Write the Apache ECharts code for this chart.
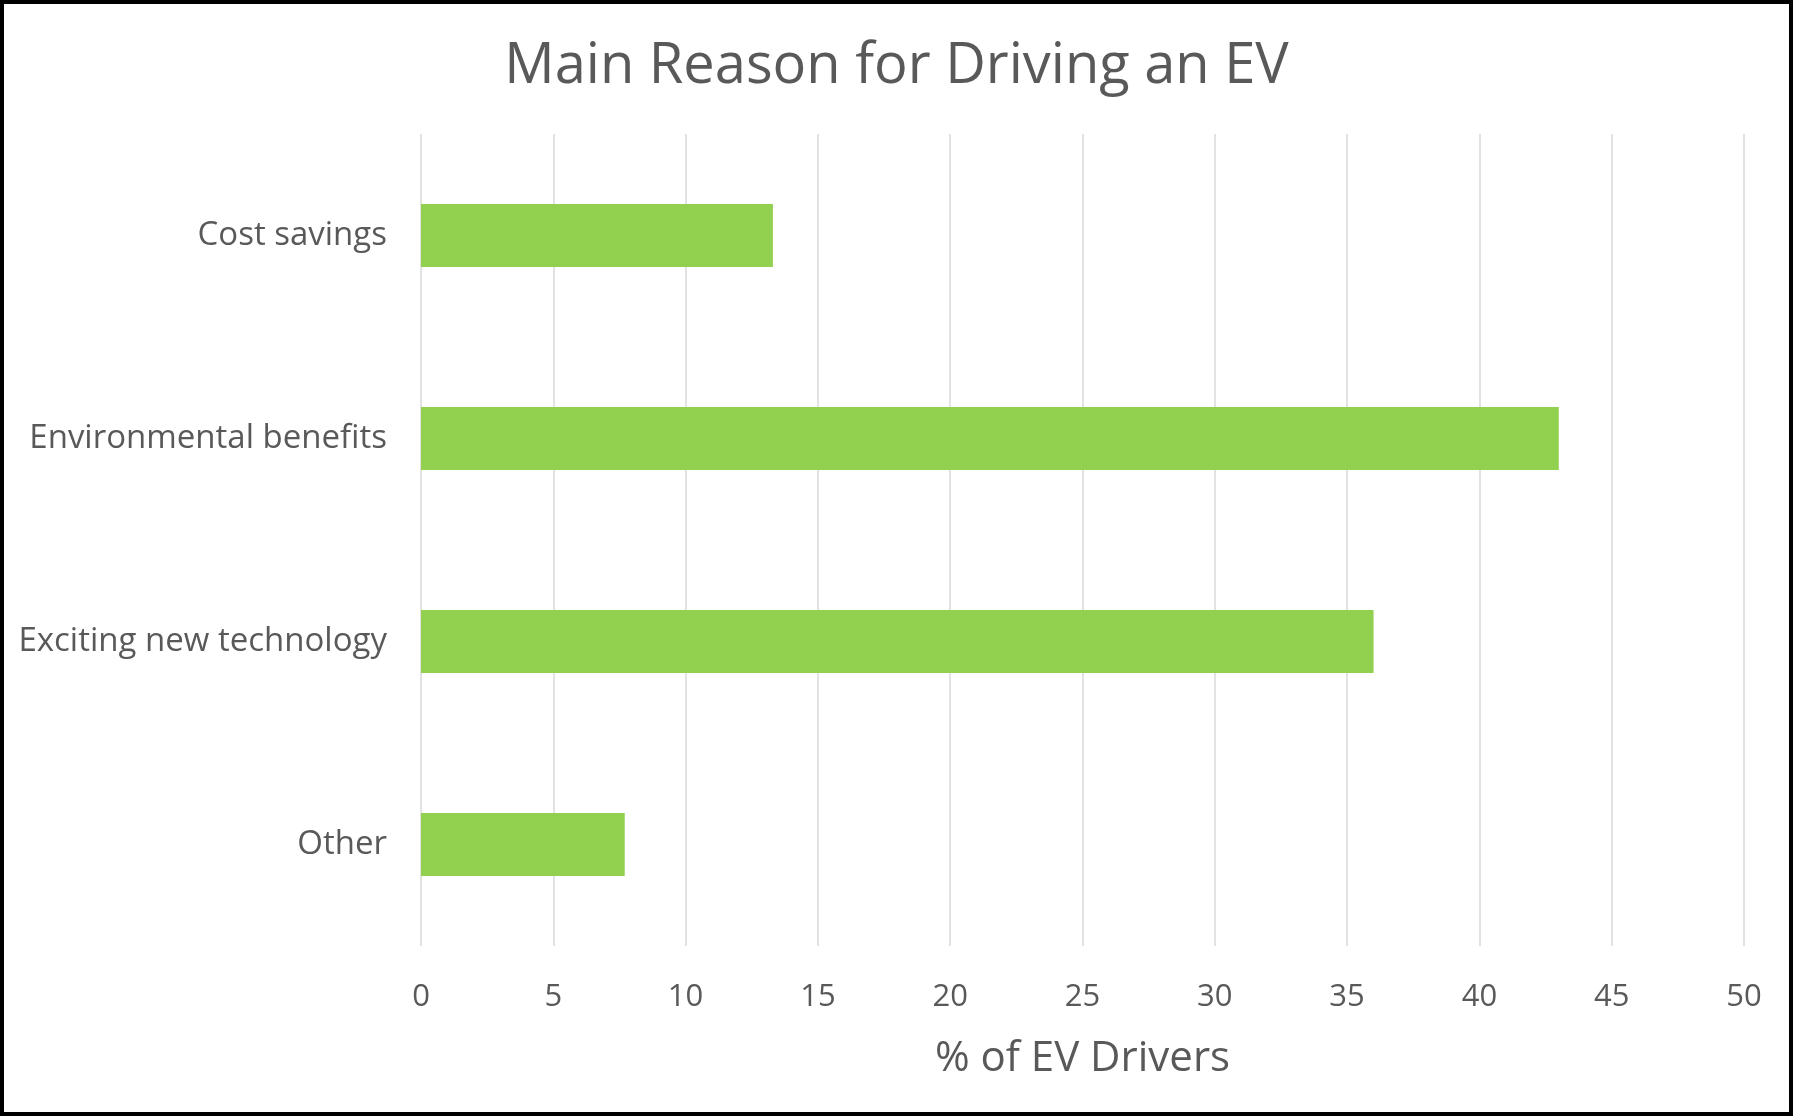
<!DOCTYPE html>
<html>
<head>
<meta charset="utf-8">
<script src="https://cdn.jsdelivr.net/npm/echarts@6/dist/echarts.min.js"></script>
<style>
  html, body { margin: 0; padding: 0; background: #fff; }
  #frame {
    width: 1793px; height: 1116px;
    box-sizing: border-box;
    border: 4px solid #000;
  }
  #chart { width: 100%; height: 100%; }
</style>
</head>
<body>
<div id="frame"><div id="chart"></div></div>
<script>
// data
var reasons = ['Cost savings', 'Environmental benefits', 'Exciting new technology', 'Other'];
var percentDrivers = [13.3, 43, 36, 7.7];
var xTicks = { min: 0, max: 50, step: 5 };

var textColor = '#595959';
var fontFam = '"Open Sans", "Noto Sans", sans-serif';

var chart = echarts.init(document.getElementById('chart'));
chart.setOption({
  animation: false,
  title: {
    text: 'Main Reason for Driving an EV',
    left: 'center',
    top: 30,
    textStyle: { color: textColor, fontFamily: fontFam, fontSize: 56, fontWeight: 'normal' }
  },
  grid: { left: 417, right: 45, top: 130, bottom: 166 },
  xAxis: {
    type: 'value',
    min: xTicks.min,
    max: xTicks.max,
    interval: xTicks.step,
    name: '% of EV Drivers',
    nameLocation: 'middle',
    nameGap: 92,
    nameTextStyle: { color: textColor, fontFamily: fontFam, fontSize: 42 },
    axisLine: { show: false },
    axisTick: { show: false },
    axisLabel: { color: textColor, fontFamily: fontFam, fontSize: 31, margin: 36 },
    splitLine: { show: true, lineStyle: { color: '#D9D9D9', width: 1.5 } }
  },
  yAxis: {
    type: 'category',
    inverse: true,
    data: reasons,
    axisLine: { show: false },
    axisTick: { show: false },
    axisLabel: { color: textColor, fontFamily: fontFam, fontSize: 33, margin: 34 }
  },
  series: [{
    type: 'bar',
    data: percentDrivers,
    barWidth: 63,
    itemStyle: { color: '#92D050' }
  }]
});
</script>
</body>
</html>
